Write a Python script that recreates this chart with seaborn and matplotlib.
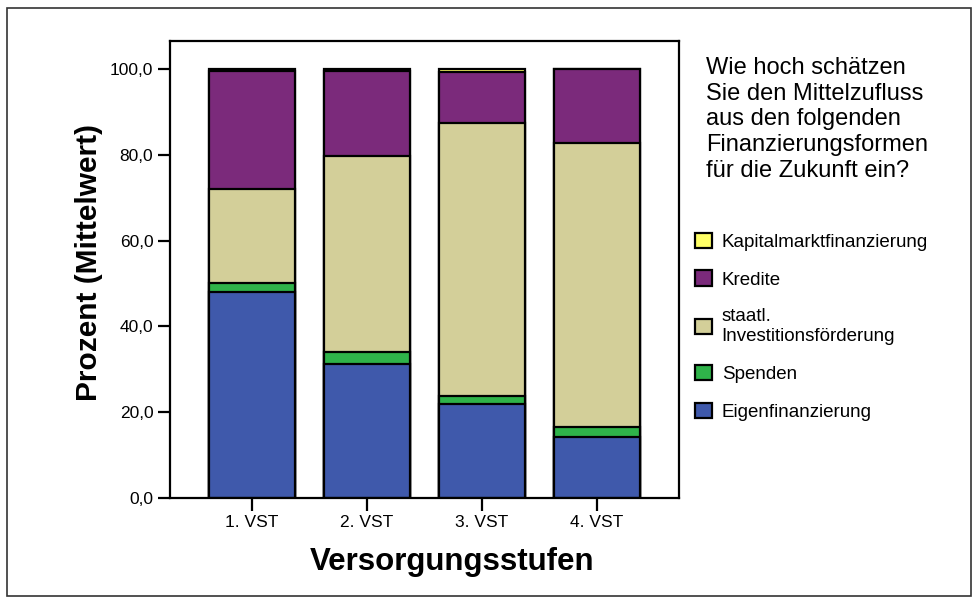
import numpy as np
import pandas as pd
import matplotlib
matplotlib.use("Agg")
import matplotlib.pyplot as plt
import seaborn as sns
from matplotlib.patches import Patch, Rectangle

# Werte (Prozent, Mittelwert)
stufen = ["1. VST", "2. VST", "3. VST", "4. VST"]
eigen = [48.0, 31.2, 21.9, 14.3]
spenden = [2.2, 2.8, 1.9, 2.3]
staatl = [21.8, 45.8, 63.7, 66.2]
kredite = [27.6, 19.6, 11.7, 17.2]
kapital = [0.4, 0.6, 0.8, 0.0]

ytick_werte = [0, 20, 40, 60, 80, 100]
ytick_labels = ["0,0", "20,0", "40,0", "60,0", "80,0", "100,0"]

frage = ("Wie hoch schätzen\nSie den Mittelzufluss\naus den folgenden\n"
         "Finanzierungsformen\nfür die Zukunft ein?")

# Schichten von unten nach oben
schichten = [
    ("Eigenfinanzierung", eigen, "#3f59ab"),
    ("Spenden", spenden, "#2fb34a"),
    ("staatl.\nInvestitionsförderung", staatl, "#d3cf99"),
    ("Kredite", kredite, "#7b2a7b"),
    ("Kapitalmarktfinanzierung", kapital, "#ffff66"),
]

sns.set_theme(style="ticks")
plt.rcParams["font.family"] = ["Liberation Sans", "DejaVu Sans"]
plt.rcParams["text.color"] = "black"
plt.rcParams["axes.labelcolor"] = "black"

fig = plt.figure(figsize=(9.78, 6.03), dpi=100)
ax = fig.add_axes([170 / 978, 105 / 603, 509 / 978, 457 / 603])

# Kumulierte Summen -> gestapelte Balken (höchste zuerst zeichnen)
df = pd.DataFrame({name: werte for name, werte, _ in schichten}, index=stufen)
kumuliert = df.cumsum(axis=1)
for name, _, farbe in reversed(schichten):
    sns.barplot(x=stufen, y=kumuliert[name].values, color=farbe, saturation=1,
                edgecolor="black", linewidth=1.6, width=0.75, errorbar=None, ax=ax)

ax.set_xlim(-0.713, 3.717)
ax.set_ylim(0, 106.5)
ax.set_yticks(ytick_werte)
ax.set_yticklabels(ytick_labels)
ax.tick_params(axis="both", direction="out", length=9, width=1.6,
               color="black", labelsize=12.5, labelcolor="black", pad=3)
for sp in ax.spines.values():
    sp.set_visible(True)
    sp.set_linewidth(1.6)
    sp.set_color("black")

ax.set_xlabel("Versorgungsstufen", fontsize=22.5, fontweight="bold")
ax.set_ylabel("Prozent (Mittelwert)", fontsize=21.5, fontweight="bold")
ax.xaxis.set_label_coords(0.555, -0.108)
ax.yaxis.set_label_coords(-0.132, 0.515)

# Frage als Legendenüberschrift
fig.text(706 / 978, 1 - 57 / 603, frage, fontsize=17, va="top", ha="left",
         linespacing=1.22)

handles = [Patch(facecolor=farbe, edgecolor="black", linewidth=1.6, label=name)
           for name, _, farbe in reversed(schichten)]
fig.legend(handles=handles, loc="upper left",
           bbox_to_anchor=(688 / 978, 1 - 225 / 603), frameon=False,
           fontsize=13.5, handlelength=0.9, handleheight=0.9, handletextpad=0.5,
           labelspacing=1.05, borderaxespad=0)

# Rahmen um die gesamte Grafik
fig.patches.append(Rectangle((7 / 978, 7 / 603), 964 / 978, 588 / 603,
                             transform=fig.transFigure, fill=False,
                             edgecolor="#333333", linewidth=1.2))

plt.savefig("out.png", dpi=100)
